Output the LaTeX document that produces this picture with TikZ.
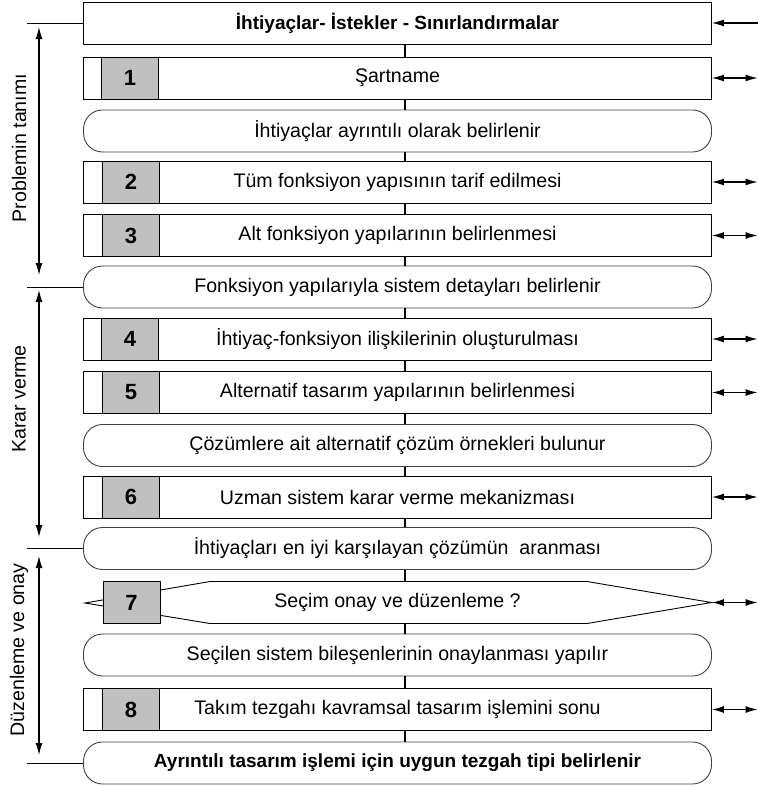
\documentclass[tikz,border=0pt]{standalone}
\usepackage{fontspec}
\setmainfont{Liberation Sans}
\usetikzlibrary{arrows.meta}
\definecolor{numgray}{HTML}{C0C0C0}
\begin{document}
\begin{tikzpicture}[x=1pt,y=-1pt,
  base/.style={draw=black, line width=0.9pt, minimum width=628pt, minimum height=42pt,
    inner sep=0pt, font=\fontsize{19.6}{22}\selectfont},
  rowbox/.style={base},
  roundrow/.style={base, draw=black!75, rounded corners=19pt},
  topbox/.style={base, font=\fontsize{19}{22}\selectfont\bfseries},
  hexrow/.style={base, draw=none},
  numbox/.style={draw=black, line width=0.9pt, fill=numgray, minimum width=57pt,
    minimum height=42pt, inner sep=0pt, font=\fontsize{22}{24}\selectfont\bfseries},
  conn/.style={line width=2pt},
  tick/.style={line width=0.9pt},
  sidearrow/.style={line width=1.1pt, {Latex[length=12pt,width=7pt]}-{Latex[length=12pt,width=7pt]}},
  rightarrow/.style={line width=1.1pt, {Latex[length=12pt,width=7pt]}-{Latex[length=12pt,width=7pt]}},
  inarrow/.style={line width=1.1pt, {Latex[length=12pt,width=7pt]}-},
  lbl/.style={rotate=90, inner sep=0pt, font=\fontsize{19.6}{22}\selectfont}
]
\useasboundingbox (0,0) rectangle (758,787);

% rows
\node[topbox] (r0) at (397.5,23) {İhtiyaçlar- İstekler - Sınırlandırmalar};
\node[rowbox] (r1) at (397.5,78) {Şartname};
\node[roundrow] (r2) at (397.5,131) {İhtiyaçlar ayrıntılı olarak belirlenir};
\node[rowbox] (r3) at (397.5,182) {Tüm fonksiyon yapısının tarif edilmesi};
\node[rowbox] (r4) at (397.5,235.5) {Alt fonksiyon yapılarının belirlenmesi};
\node[roundrow] (r5) at (397.5,287) {Fonksiyon yapılarıyla sistem detayları belirlenir};
\node[rowbox] (r6) at (397.5,339) {İhtiyaç-fonksiyon ilişkilerinin oluşturulması};
\node[rowbox] (r7) at (397.5,392.5) {Alternatif tasarım yapılarının belirlenmesi};
\node[roundrow] (r8) at (397.5,445.5) {Çözümlere ait alternatif çözüm örnekleri bulunur};
\node[rowbox] (r9) at (397.5,497) {Uzman sistem karar verme mekanizması};
\node[roundrow] (r10) at (397.5,548.5) {İhtiyaçları en iyi karşılayan çözümün\ \ aranması};
\draw[line width=0.9pt] (85,603) -- (210,581.5) -- (587,581.5) -- (711.5,602.5) -- (587,623.5) -- (210,623.5) -- cycle;
\node[hexrow] (r11) at (397.5,602.5) {Seçim onay ve düzenleme ?};
\node[roundrow] (r12) at (397.5,655) {Seçilen sistem bileşenlerinin onaylanması yapılır};
\node[rowbox] (r13) at (397.5,709.5) {Takım tezgahı kavramsal tasarım işlemini sonu};
\node[roundrow, font=\fontsize{19}{22}\selectfont\bfseries] (r14) at (397.5,763) {Ayrıntılı tasarım işlemi için uygun tezgah tipi belirlenir};

% number boxes
\node[numbox] (n1) at (130,78) {1};
\node[numbox] (n2) at (131,182) {2};
\node[numbox] (n3) at (131,235.5) {3};
\node[numbox] (n4) at (130,339) {4};
\node[numbox] (n5) at (131,392.5) {5};
\node[numbox] (n6) at (131,497) {6};
\node[numbox] (n7) at (131.5,602.5) {7};
\node[numbox] (n8) at (131,709.5) {8};

% vertical connectors
\coordinate (C) at (405,0);
\foreach \a/\b in {r0/r1,r1/r2,r2/r3,r3/r4,r4/r5,r5/r6,r6/r7,r7/r8,r8/r9,r9/r10,r10/r11,r11/r12,r12/r13,r13/r14}
  \draw[conn] (\a.south -| C) -- (\b.north -| C);

% right arrows
\coordinate (R) at (757.5,0);
\draw[inarrow] (r0.east) -- (r0.east -| R);
\foreach \a in {r1,r3,r4,r6,r7,r9,r11,r13}
  \draw[rightarrow] (\a.east) -- (\a.east -| R);

% left brackets
\coordinate (L) at (27,0);
\foreach \a in {r0,r5,r10,r14}
  \draw[tick] (\a.west -| L) -- (\a.west);
\coordinate (a1s) at (39,27);
\coordinate (a1e) at (39,275);
\coordinate (a2s) at (39,290);
\coordinate (a2e) at (39,537);
\coordinate (a3s) at (39,556);
\coordinate (a3e) at (39,755);
\draw[sidearrow] (a1s) -- (a1e);
\draw[sidearrow] (a2s) -- (a2e);
\draw[sidearrow] (a3s) -- (a3e);
\node[lbl] (l1) at (19,148) {Problemin tanımı};
\node[lbl] (l2) at (19,399) {Karar verme};
\node[lbl] (l3) at (19,650) {Düzenleme ve onay};
\end{tikzpicture}
\end{document}
